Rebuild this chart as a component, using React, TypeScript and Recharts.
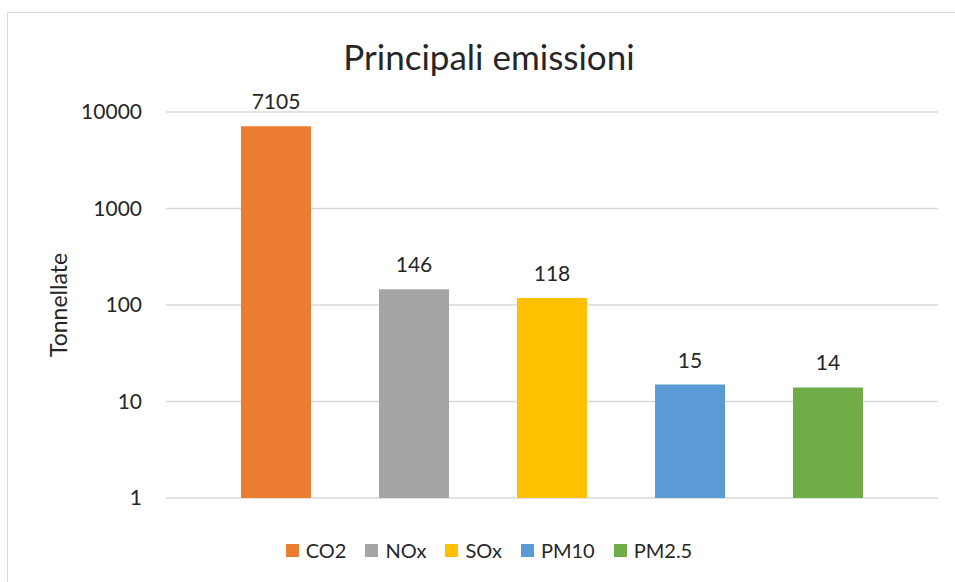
import React from 'react';
import { BarChart, Bar, XAxis, YAxis, CartesianGrid, Legend, LabelList } from 'recharts';

const pollutants = ['CO2', 'NOx', 'SOx', 'PM10', 'PM2.5'];
const tonnes = [7105, 146, 118, 15, 14];
const colors = ['#ED7D31', '#A5A5A5', '#FFC000', '#5B9BD5', '#70AD47'];
const yTicks = [1, 10, 100, 1000, 10000];

const row: Record<string, string | number> = { name: 'Emissioni' };
pollutants.forEach((p, i) => {
  row[p] = tonnes[i];
});
const data = [row];

const FONT = 'Lato, "Noto Sans", sans-serif';
const TEXT = '#262626';

// keep legend in series order (recharts sorts it by name otherwise)
const renderLegend = () => (
  <div style={{ display: 'flex', justifyContent: 'center', alignItems: 'center', height: 26 }}>
    {pollutants.map((p, i) => (
      <div key={p} style={{ display: 'flex', alignItems: 'center', marginRight: i < pollutants.length - 1 ? 19 : 0 }}>
        <span style={{ width: 13, height: 13, background: colors[i], display: 'inline-block', marginRight: 7 }} />
        <span style={{ fontFamily: FONT, fontSize: 20, color: TEXT }}>{p}</span>
      </div>
    ))}
  </div>
);

const renderValue = (props: any) => {
  const { x, y, width, value } = props;
  return (
    <text
      x={Number(x) + Number(width) / 2}
      y={Number(y) - 17}
      textAnchor="middle"
      style={{ fontFamily: FONT, fontSize: 21, fill: TEXT }}
    >
      {value}
    </text>
  );
};

const App: React.FC = () => {
  return (
    <div style={{ position: 'absolute', left: 0, top: 0, width: 955, height: 582, overflow: 'hidden', background: '#fff' }}>
      <div
        style={{
          position: 'absolute',
          left: 7,
          top: 12,
          width: 1000,
          height: 700,
          border: '1px solid #d9d9d9',
        }}
      />
      <div
        style={{
          position: 'absolute',
          left: 7,
          width: 964,
          top: 36,
          textAlign: 'center',
          fontFamily: FONT,
          fontSize: 35,
          lineHeight: '40px',
          color: TEXT,
        }}
      >
        Principali emissioni
      </div>
      <BarChart
        width={955}
        height={582}
        data={data}
        margin={{ top: 112, right: 17, left: 0, bottom: 58 }}
        barSize={70}
        barGap={68}
        style={{ position: 'absolute', left: 0, top: 0 }}
      >
        <CartesianGrid vertical={false} stroke="#d9d9d9" strokeWidth={1.5} />
        <XAxis dataKey="name" hide />
        <YAxis
          scale="log"
          domain={[1, 10000]}
          allowDataOverflow
          ticks={yTicks}
          width={166}
          axisLine={false}
          tickLine={false}
          tickSize={6}
          tickMargin={18}
          tick={{ fontFamily: FONT, fontSize: 21, fill: TEXT }}
          label={{
            content: (p: any) => {
              const vb = p.viewBox || { x: 0, y: 0, width: 166, height: 386 };
              const cx = vb.x + 58;
              const cy = vb.y + vb.height / 2;
              return (
                <text
                  x={cx}
                  y={cy}
                  transform={`rotate(-90 ${cx} ${cy})`}
                  textAnchor="middle"
                  dominantBaseline="central"
                  style={{ fontFamily: FONT, fontSize: 23, fill: TEXT }}
                >
                  Tonnellate
                </text>
              );
            },
          }}
        />
        <Legend
          content={renderLegend}
          wrapperStyle={{ left: 7, width: 964, top: 537, height: 26 }}
        />
        {pollutants.map((p, i) => (
          <Bar key={p} dataKey={p} fill={colors[i]} isAnimationActive={false}>
            <LabelList dataKey={p} content={renderValue} />
          </Bar>
        ))}
      </BarChart>
    </div>
  );
};

export default App;
